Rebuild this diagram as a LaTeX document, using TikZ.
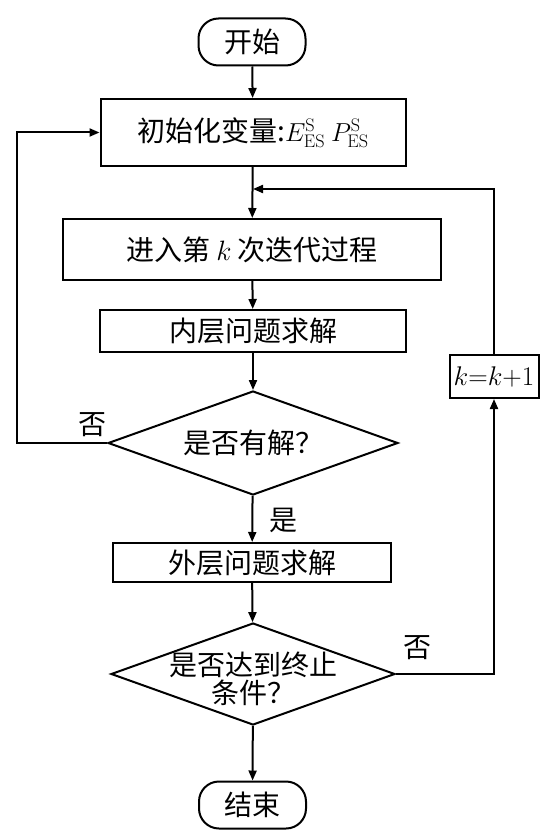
\RequirePackage{fix-cm}
\documentclass[tikz,border=0pt]{standalone}
\usepackage{fontspec}
\newfontfamily\cjk{Noto Sans CJK SC}
\usetikzlibrary{shapes.geometric,arrows.meta}
\begin{document}
\begin{tikzpicture}[x=1pt,y=-1pt,line width=2pt,
  font=\cjk\fontsize{28}{34}\selectfont,
  boite/.style={draw,rectangle,inner sep=0pt},
  bout/.style={draw,rounded corners=20pt,minimum width=107pt,minimum height=47pt,inner sep=0pt},
  test/.style={draw,diamond,aspect=2.8,inner sep=-12pt,align=center},
  fleche/.style={-{Triangle[length=10pt,width=8pt]}}]
\useasboundingbox (0,0) rectangle (557,840);
\node[bout] (debut) at (252,42) {开始};%depart
\node[boite,minimum width=305pt,minimum height=67pt] (init) at (253,132.5)
  {初始化变量:{\fontsize{26}{30}\selectfont$E_{\mathrm{ES}}^{\mathrm{S}}\ P_{\mathrm{ES}}^{\mathrm{S}}$}};
\coordinate (retour) at (253,189);%entree de la boucle k
\node[boite,minimum width=378pt,minimum height=61pt] (iter) at (252,249.5) {进入第 $k$ 次迭代过程};
\node[boite,minimum width=306pt,minimum height=42pt] (interne) at (253,331) {内层问题求解};
\node[test,minimum width=290pt,minimum height=104pt] (test1) at (253,443) {是否有解？};
\node[boite,minimum width=278pt,minimum height=39pt] (externe) at (252,562.5) {外层问题求解};
\node[test,minimum width=284pt,minimum height=102pt] (test2) at (253,674)
  {\raisebox{-16pt}[0pt][0pt]{\begin{tabular}{@{}c@{}}是否达到终止\\[-6pt]条件？\end{tabular}}};
\node[bout] (fin) at (252.5,805) {结束};%arrivee
\node[boite,minimum width=89pt,minimum height=43pt,font=\fontsize{27}{30}\selectfont] (incr) at (494,376.5) {$k{=}k{+}1$};
\node (non1) at (92,425) {否};
\node (oui) at (283,520) {是};
\node (non2) at (417,648) {否};
%axe principal
\draw[fleche] (debut) -- (init);
\draw[fleche] (init) -- (iter);
\draw[fleche] (iter) -- (interne);
\draw[fleche] (interne) -- (test1);
\draw[fleche] (test1) -- (externe);
\draw[fleche] (externe) -- (test2);
\draw[fleche] (test2) -- (fin);
%boucles
\draw[fleche] (test1.west) -- ++(-90,0) |- (init.west);
\draw[fleche] (test2.east) -| (incr.south);
\draw[fleche] (incr.north) |- (retour);
\end{tikzpicture}
\end{document}
